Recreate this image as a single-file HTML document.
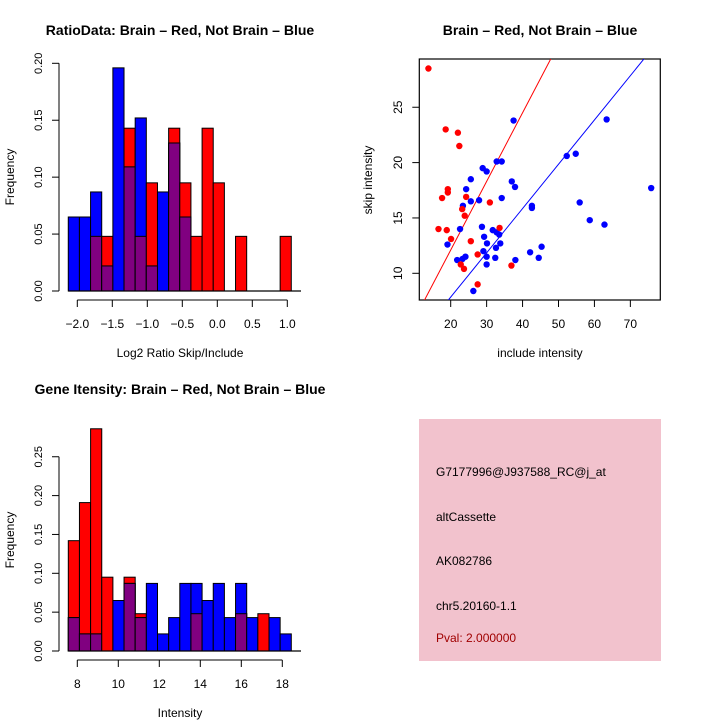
<!DOCTYPE html>
<html><head><meta charset="utf-8"><style>
html,body{margin:0;padding:0;background:#fff}
svg{display:block;font-family:"Liberation Sans",sans-serif}
</style></head><body>
<svg id="s" width="720" height="720" viewBox="0 0 720 720" xmlns="http://www.w3.org/2000/svg">
<rect width="720" height="720" fill="#fff"/>
<text x="180" y="35" text-anchor="middle" font-size="14" font-weight="bold">RatioData: Brain – Red, Not Brain – Blue</text>
<text x="540" y="35" text-anchor="middle" font-size="14" font-weight="bold">Brain – Red, Not Brain – Blue</text>
<text x="180" y="394" text-anchor="middle" font-size="14" font-weight="bold">Gene Itensity: Brain – Red, Not Brain – Blue</text>
<g id="g1"></g>
<g id="g2"></g>
<g id="g3"></g>
<rect x="419" y="419" width="242" height="242" fill="#f2c2cd"/>
<g font-size="12">
<text x="436" y="476">G7177996@J937588_RC@j_at</text>
<text x="436" y="521">altCassette</text>
<text x="436" y="565">AK082786</text>
<text x="436" y="610">chr5.20160-1.1</text>
<text x="436" y="642" fill="#a00000">Pval: 2.000000</text>
</g>
</svg>
<script>
// Ratio histogram data
const ratioBinStart = -2.129, ratioBinWidth = 0.1593;
const ratioRed  = [0,0,0.048,0.048,0,0.143,0.048,0.095,0,0.143,0.095,0.048,0.143,0.095,0,0.048,0,0,0,0.048];
const ratioBlue = [0.065,0.065,0.087,0.022,0.196,0.109,0.152,0.022,0.087,0.130,0.065,0,0,0,0,0,0,0,0,0];
const ratioXTicks = [-2.0,-1.5,-1.0,-0.5,0.0,0.5,1.0];
const ratioXLabels = ["−2.0","−1.5","−1.0","−0.5","0.0","0.5","1.0"];
const ratioYTicks = [0,0.05,0.10,0.15,0.20];
const ratioYLabels = ["0.00","0.05","0.10","0.15","0.20"];
// Intensity histogram data
const intBinStart = 7.561, intBinWidth = 0.5439;
const intRed  = [0.142,0.191,0.286,0.095,0,0.095,0.048,0,0,0,0,0.048,0,0,0,0.048,0,0.048,0,0];
const intBlue = [0.043,0.022,0.022,0,0.065,0.087,0.043,0.087,0.022,0.043,0.087,0.087,0.065,0.087,0.043,0.087,0.043,0,0.043,0.022];
const intXTicks = [8,10,12,14,16,18];
const intYTicks = [0,0.05,0.10,0.15,0.20,0.25];
const intYLabels = ["0.00","0.05","0.10","0.15","0.20","0.25"];
// Scatter data
const redX = [13.8,18.6,22.0,22.4,19.2,19.2,17.6,24.3,23.2,23.9,30.9,16.6,18.9,20.1,25.6,33.6,27.5,22.8,23.7,36.9,27.5];
const redY = [28.5,23.0,22.7,21.5,17.6,17.3,16.8,16.9,15.8,15.2,16.4,14.0,13.9,13.1,12.9,14.1,11.7,10.8,10.4,10.7,9.0];
const blueX = [37.5,63.4,54.8,52.3,32.8,34.2,28.9,30.0,25.6,37.0,37.9,24.3,75.8,34.2,27.9,25.6,23.4,42.6,42.6,55.9,58.7,62.8,22.6,28.7,31.7,32.8,33.5,29.3,19.1,30.1,33.8,32.6,45.3,29.1,42.1,21.8,23.3,24.1,30.0,32.4,44.5,38.0,30.0,26.3];
const blueY = [23.8,23.9,20.8,20.6,20.1,20.1,19.5,19.2,18.5,18.3,17.8,17.6,17.7,16.8,16.6,16.5,16.1,16.1,15.9,16.4,14.8,14.4,14.0,14.2,13.9,13.7,13.5,13.3,12.6,12.7,12.7,12.3,12.4,12.0,11.9,11.2,11.3,11.5,11.5,11.4,11.4,11.2,10.8,8.4];
const redLine = [0.62,-0.3];
const blueLine = [0.4,-0.15];
const scXTicks = [20,30,40,50,60,70];
const scYTicks = [10,15,20,25];

const NS="http://www.w3.org/2000/svg";
function mk(parent,tag,attrs,txt){const e=document.createElementNS(NS,tag);for(const k in attrs)e.setAttribute(k,attrs[k]);if(txt!==undefined)e.textContent=txt;parent.appendChild(e);return e;}

function hist(g,o){
  const xs=v=>o.x0+(v-o.xa)*o.kx, ys=v=>o.y0-v*o.ky;
  const n=o.red.length;
  for(let i=0;i<n;i++){
    const a=xs(o.bs+i*o.bw), b=xs(o.bs+(i+1)*o.bw);
    const r=o.red[i], bl=o.blue[i], m=Math.min(r,bl);
    if(r>0){const e=mk(g,'rect',{x:a,y:ys(r),width:b-a,height:ys(0)-ys(r),fill:'#ff0000',stroke:'#000','stroke-width':1});
      }
    if(bl>0){const e=mk(g,'rect',{x:a,y:ys(bl),width:b-a,height:ys(0)-ys(bl),fill:'#0000ff',stroke:'#000','stroke-width':1});
      }
    if(m>0){const e=mk(g,'rect',{x:a,y:ys(m),width:b-a,height:ys(0)-ys(m),fill:'#800080',stroke:'#000','stroke-width':1});
      }
  }
  const bl=mk(g,'line',{x1:xs(o.bs),x2:o.xe,y1:ys(0),y2:ys(0),stroke:'#000','stroke-width':1.3});
  
  // y axis
  const ya=mk(g,'g',{});
  const yt=o.yt, yl=o.yl;
  mk(ya,'line',{x1:59,x2:59,y1:ys(yt[0]),y2:ys(yt[yt.length-1]),stroke:'#000'});
  yt.forEach((v,i)=>{mk(ya,'line',{x1:52,x2:59,y1:ys(v),y2:ys(v),stroke:'#000'});
    mk(ya,'text',{x:0,y:0,transform:`translate(42,${ys(v)}) rotate(-90)`,'text-anchor':'middle','font-size':11},yl[i]);});
  const yT=mk(g,'text',{x:0,y:0,transform:`translate(14,${o.ymid}) rotate(-90)`,'text-anchor':'middle','font-size':12},'Frequency');
  
  // x axis
  const xa=mk(g,'g',{});
  const xt=o.xt;
  mk(xa,'line',{x1:xs(xt[0]),x2:xs(xt[xt.length-1]),y1:o.axY,y2:o.axY,stroke:'#000'});
  xt.forEach((v,i)=>{mk(xa,'line',{x1:xs(v),x2:xs(v),y1:o.axY,y2:o.axY+7,stroke:'#000'});
    mk(xa,'text',{x:xs(v),y:o.axY+28,'text-anchor':'middle','font-size':12},o.xl[i]);});
  const xT=mk(g,'text',{x:o.titleX,y:o.axY+57,'text-anchor':'middle','font-size':12},o.title);
  
}
hist(document.getElementById('g1'),{x0:77.3,xa:-2,kx:70,y0:291,ky:1138.5,bs:ratioBinStart,bw:ratioBinWidth,red:ratioRed,blue:ratioBlue,
  xe:301,yt:ratioYTicks,yl:ratioYLabels,xt:ratioXTicks,xl:ratioXLabels,axY:300,ymid:177,title:'Log2 Ratio Skip/Include',titleX:180});
hist(document.getElementById('g2'),{x0:77.3,xa:8,kx:20.5,y0:651,ky:777,bs:intBinStart,bw:intBinWidth,red:intRed,blue:intBlue,
  xe:301,yt:intYTicks,yl:intYLabels,xt:intXTicks,xl:intXTicks.map(String),axY:660,ymid:540,title:'Intensity',titleX:180});

// scatter
(function(){
  const g=document.getElementById('g3');
  const L=419.3,R=660.3,T=59,B=300;
  const xs=v=>450.7+(v-20)*3.593, ys=v=>273.3-(v-10)*11.07;
  const xinv=p=>20+(p-450.7)/3.593;
  mk(g,'defs',{}).innerHTML='<clipPath id="cp"><rect x="419.3" y="59" width="241" height="241"/></clipPath>';
  const fr=mk(g,'rect',{x:L,y:T,width:R-L,height:B-T,fill:'none',stroke:'#000','stroke-width':1.2});
  
  [[redLine,'#ff0000','red-fit-line'],[blueLine,'#0000ff','blue-fit-line']].forEach(([c,col,nm])=>{
    const x1=xinv(L),x2=xinv(R);
    const e=mk(g,'line',{x1:L,x2:R,y1:ys(c[0]*x1+c[1]),y2:ys(c[0]*x2+c[1]),stroke:col,'stroke-width':1,'clip-path':'url(#cp)'});
    
  });
  blueX.forEach((x,i)=>{const e=mk(g,'circle',{cx:xs(x),cy:ys(blueY[i]),r:3.2,fill:'#0000ff'});
    });
  redX.forEach((x,i)=>{const e=mk(g,'circle',{cx:xs(x),cy:ys(redY[i]),r:3.2,fill:'#ff0000'});
    });
  const xa=mk(g,'g',{});
  scXTicks.forEach(v=>{mk(xa,'line',{x1:xs(v),x2:xs(v),y1:B,y2:B+7,stroke:'#000'});
    mk(xa,'text',{x:xs(v),y:B+28,'text-anchor':'middle','font-size':12},String(v));});
  const ya=mk(g,'g',{});
  scYTicks.forEach(v=>{mk(ya,'line',{x1:L-7,x2:L,y1:ys(v),y2:ys(v),stroke:'#000'});
    mk(ya,'text',{x:0,y:0,transform:`translate(402,${ys(v)}) rotate(-90)`,'text-anchor':'middle','font-size':12},String(v));});
  const xt=mk(g,'text',{x:540,y:357,'text-anchor':'middle','font-size':12},'include intensity');
  
  const yt=mk(g,'text',{x:0,y:0,transform:'translate(372,180) rotate(-90)','text-anchor':'middle','font-size':12},'skip intensity');
  
})();
</script>
</body></html>
